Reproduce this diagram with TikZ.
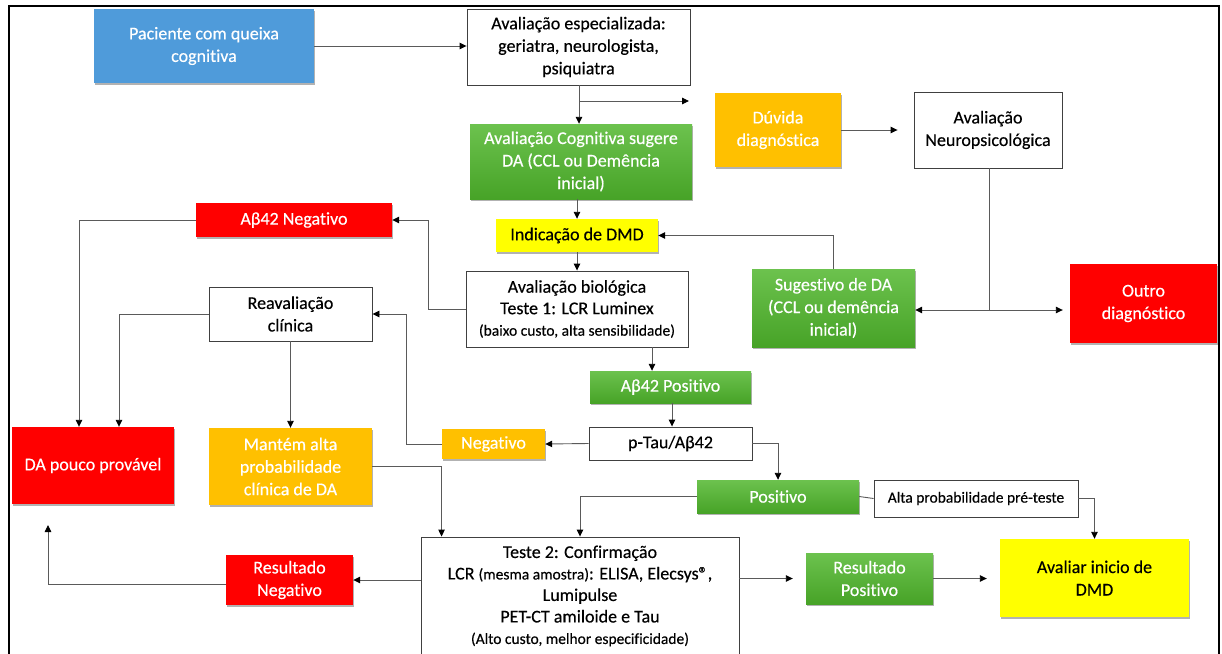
\documentclass[tikz,border=0pt]{standalone}
\usepackage{fontspec}
\setmainfont{Carlito}[Ligatures=NoCommon, FakeBold=0.35]
\usetikzlibrary{arrows.meta,shadows,calc}

\definecolor{pblue}{HTML}{4F9BDA}
\definecolor{pred}{HTML}{FF0000}
\definecolor{porange}{HTML}{FFC000}
\definecolor{pyellow}{HTML}{FFFF00}
\definecolor{gtop}{HTML}{6CC24E}
\definecolor{gbot}{HTML}{47A327}
\definecolor{lin}{HTML}{5A5A5A}

\tikzset{
  x=1pt, y=-1pt,
  box/.style={rectangle, inner sep=0pt, align=center,
    font=\fontsize{18}{22.5}\selectfont},
  wbox/.style={box, draw=black!75, line width=0.9pt, fill=white},
  cbox/.style={box, text=white,
    drop shadow={shadow xshift=1.2pt, shadow yshift=-1.6pt, opacity=0.3, fill=black}},
  bluebox/.style={cbox, fill=pblue},
  redbox/.style={cbox, fill=pred},
  orangebox/.style={cbox, fill=porange},
  yellowbox/.style={cbox, fill=pyellow, text=black},
  greenbox/.style={cbox, top color=gtop, bottom color=gbot},
  conn/.style={draw=lin, line width=0.9pt},
  arr/.style={conn, -{Triangle[length=7pt,width=6.5pt,color=black]}},
  small/.style={font=\fontsize{15.5}{18}\selectfont},
}

\newcommand{\smalltxt}[1]{{\fontsize{15.5}{18}\selectfont #1}}

\begin{document}
\begin{tikzpicture}
\clip (0,0) rectangle (1222,653);
\fill[white] (0,0) rectangle (1222,653);

% outer frame
\draw[line width=2pt, black] (9,6) rectangle (1219,690);

% top row
\node[bluebox, minimum width=220pt, minimum height=74pt] (pac) at (204,46)
  {Paciente com queixa\\cognitiva};
\node[wbox, minimum width=223pt, minimum height=76pt] (esp) at (578.5,47)
  {Avaliação especializada:\\geriatra, neurologista,\\psiquiatra};
\node[greenbox, minimum width=222pt, minimum height=75pt] (cog) at (581,161.5)
  {Avaliação Cognitiva sugere\\DA (CCL ou Demência\\inicial)};
\node[orangebox, minimum width=126pt, minimum height=74pt] (duv) at (778,130)
  {Dúvida\\diagnóstica};
\node[wbox, minimum width=148pt, minimum height=76pt] (neu) at (988,130)
  {Avaliação\\Neuropsicológica};

% middle
\node[redbox, minimum width=196pt, minimum height=34pt] (neg) at (294,220)
  {Aβ42 Negativo};
\node[yellowbox, minimum width=162pt, minimum height=33pt] (ind) at (577,235.5)
  {Indicação de DMD};
\node[wbox, minimum width=222pt, minimum height=76pt, font=\fontsize{18}{21.5}\selectfont] (bio) at (577,309)
  {Avaliação biológica\\Teste 1: LCR Luminex\\\smalltxt{(baixo custo, alta sensibilidade)}};
\node[greenbox, minimum width=163pt, minimum height=78pt] (sug) at (833.5,308)
  {Sugestivo de DA\\(CCL ou demência\\inicial)};
\node[redbox, minimum width=147pt, minimum height=79pt] (out) at (1143.5,303.5)
  {Outro\\diagnóstico};
\node[wbox, minimum width=163pt, minimum height=54pt] (rea) at (290.5,314)
  {Reavaliação\\clínica};
\node[greenbox, minimum width=161pt, minimum height=32pt] (pos) at (670.5,387)
  {Aβ42 Positivo};

% lower
\node[redbox, minimum width=162pt, minimum height=77pt] (dap) at (93,465.5)
  {DA pouco provável};
\node[orangebox, minimum width=163pt, minimum height=77pt] (man) at (290.5,466.5)
  {Mantém alta\\probabilidade\\clínica de DA};
\node[orangebox, minimum width=103pt, minimum height=30pt] (ngo) at (493.5,444)
  {Negativo};
\node[wbox, minimum width=163pt, minimum height=33pt] (tau) at (670.5,443.5)
  {p-Tau/Aβ42};
\node[greenbox, minimum width=162pt, minimum height=33pt] (psv) at (778,496.5)
  {Positivo};
\node[wbox, small, minimum width=204pt, minimum height=37pt] (alt) at (976,498.5)
  {Alta probabilidade pré-teste};
\node[wbox, minimum width=318pt, minimum height=118pt, font=\fontsize{18}{21.5}\selectfont] (t2) at (580,596)
  {Teste 2: Confirmação\\LCR \smalltxt{(mesma amostra)}: ELISA, Elecsys®,\\Lumipulse\\PET-CT amiloide e Tau\\\smalltxt{(Alto custo, melhor especificidade)}};
\node[redbox, minimum width=127pt, minimum height=50pt] (rneg) at (289.5,580)
  {Resultado\\Negativo};
\node[greenbox, minimum width=127pt, minimum height=51pt] (rpos) at (869.5,578.5)
  {Resultado\\Positivo};
\node[yellowbox, minimum width=189pt, minimum height=78pt] (ava) at (1094.5,578)
  {Avaliar inicio de\\DMD};

% free ends and junctions
\coordinate (br) at (579,101);
\coordinate (duvin) at (689,101);
\coordinate (jn) at (989,310);
\coordinate (dapin) at (48,525);

% connectors
\draw[arr] (pac.east) -- (pac.east -| esp.west);
\draw[arr] (br |- esp.south) -- (br |- cog.north);
\draw[arr] (br) -- (duvin);
\draw[arr, shorten >=16pt] (duv.east) -- (neu.west);
\draw[conn] (jn |- neu.south) -- (jn);
\draw[arr] (jn) -- (jn -| sug.east);
\draw[arr, shorten >=7pt] (jn) -- (jn -| out.west);
\draw[arr] (sug.north) |- (ind.east);
\draw[arr] (ind.north |- cog.south) -- (ind.north);
\draw[arr] (ind.south) -- (bio.north);
\draw[arr] (bio.west) -- ++(-37,0) |- (neg.east);
\draw[arr] (neg.west) -| ([xshift=-14pt]dap.north);
\draw[arr] (rea.west) -| ([xshift=26pt]dap.north);
\draw[arr] (rea.south) -- (man.north);
\draw[arr] (ngo.west) -- ++(-35,0) |- (rea.east);
\draw[arr] (tau.west) -- (ngo.east);
\draw[arr] ([xshift=75pt]bio.south) -- ([xshift=75pt]bio.south |- pos.north);
\draw[arr] ([xshift=1.5pt]pos.south) -- ([xshift=1.5pt]tau.north);
\draw[arr] (tau.east) -| (psv.north);
\draw[arr] (psv.west) -| (t2.north);
\draw[conn] (psv.east) -- (alt.west);
\draw[arr] (alt.east) -| (ava.north);
\draw[arr] (man.east) -| ([xshift=21pt]t2.north west);
\draw[arr] (t2.west |- rneg.east) -- (rneg.east);
\draw[arr] ([yshift=-4pt]rneg.west) -| (dapin);
\draw[arr, shorten >=13pt] (t2.east |- rpos.west) -- (rpos.west);
\draw[arr, shorten >=13pt] (rpos.east) -- (rpos.east -| ava.west);
\end{tikzpicture}
\end{document}
